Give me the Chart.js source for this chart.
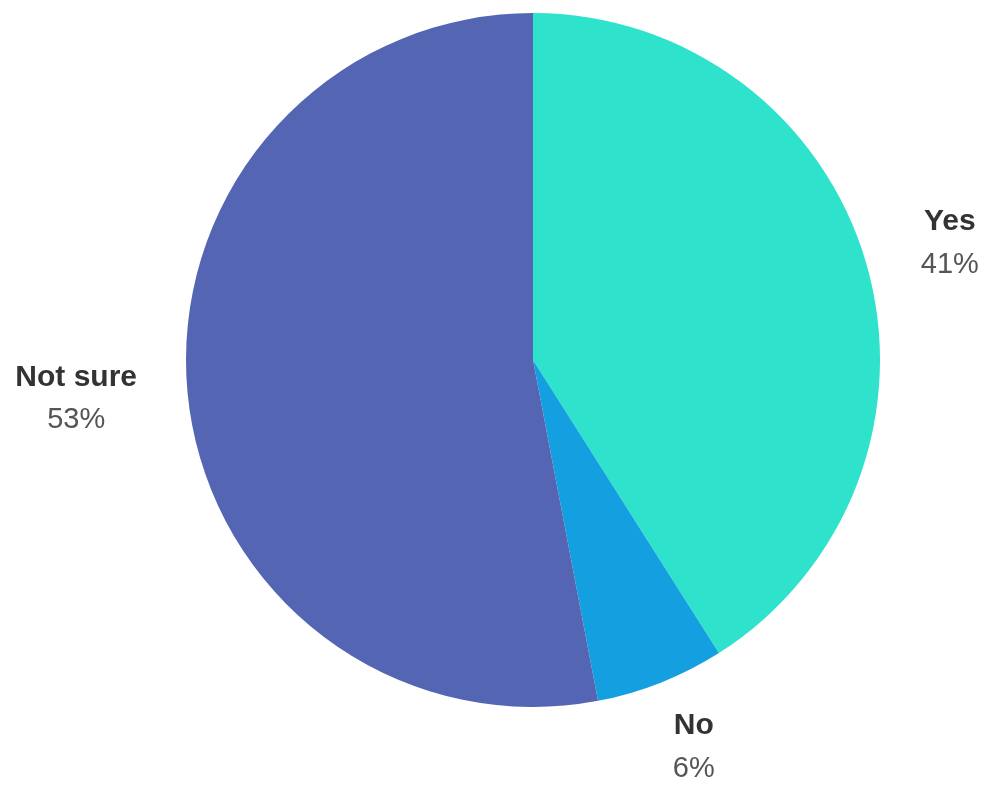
<!DOCTYPE html>
<html>
<head>
<meta charset="utf-8">
<script src="https://cdn.jsdelivr.net/npm/chart.js@4"></script>
<style>
  html, body { margin: 0; padding: 0; background: #ffffff; }
  #wrap { width: 988px; height: 807px; }
</style>
</head>
<body>
<div id="wrap"><canvas id="pieChart" width="988" height="807"></canvas></div>
<script>
const labels = ['Yes', 'No', 'Not sure'];
const percents = [41, 6, 53];
const colors = ['#2ee2cc', '#149fe0', '#5465b4'];

// Draw the name + percentage outside each slice
const outsideLabels = {
  id: 'outsideLabels',
  afterDatasetsDraw(chart) {
    const ctx = chart.ctx;
    const meta = chart.getDatasetMeta(0);
    meta.data.forEach((arc, i) => {
      const p = arc.getProps(['x', 'y', 'startAngle', 'endAngle', 'outerRadius'], true);
      const mid = (p.startAngle + p.endAngle) / 2;
      const cos = Math.cos(mid), sin = Math.sin(mid);
      const dist = p.outerRadius + 56;
      ctx.save();
      ctx.font = 'bold 30px "Liberation Sans", Arial, sans-serif';
      const w1 = ctx.measureText(labels[i]).width;
      const lx = p.x + cos * dist + cos * w1 / 2 + 5;
      const ly = p.y + sin * dist + sin * 14;
      ctx.textAlign = 'center';
      ctx.textBaseline = 'middle';
      ctx.fillStyle = '#333333';
      ctx.fillText(labels[i], lx, ly - 22);
      ctx.font = '29px "Liberation Sans", Arial, sans-serif';
      ctx.fillStyle = '#555555';
      ctx.fillText(percents[i] + '%', lx, ly + 21);
      ctx.restore();
    });
  }
};

new Chart(document.getElementById('pieChart').getContext('2d'), {
  type: 'pie',
  data: {
    labels: labels,
    datasets: [{
      data: percents,
      backgroundColor: colors,
      borderWidth: 0
    }]
  },
  options: {
    responsive: false,
    animation: false,
    layout: { padding: { left: 186, right: 108, top: 13, bottom: 100 } },
    plugins: {
      legend: { display: false },
      tooltip: { enabled: false }
    }
  },
  plugins: [outsideLabels]
});
</script>
</body>
</html>
